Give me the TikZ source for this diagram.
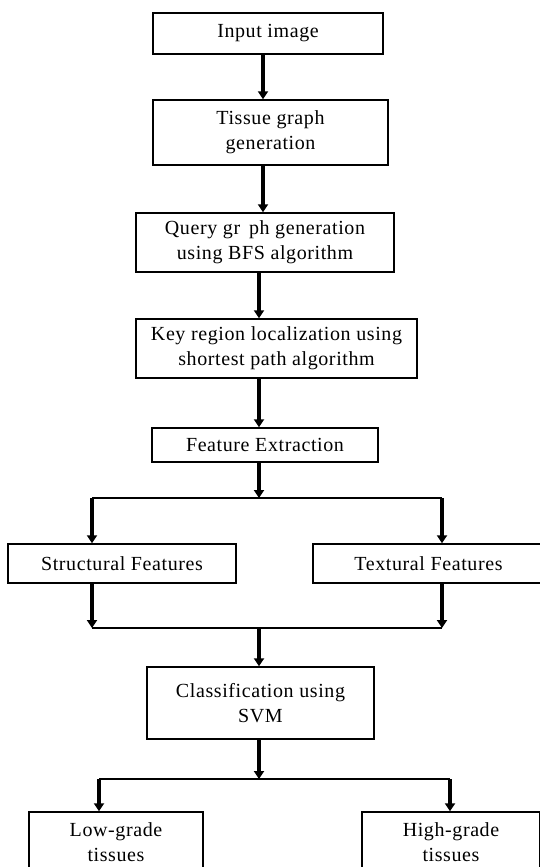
\documentclass[tikz,border=0pt]{standalone}
\usepackage{fontspec}
\setmainfont{Liberation Serif}[LetterSpace=3]
\usetikzlibrary{arrows.meta}
\begin{document}
\begin{tikzpicture}[x=1pt,y=-1pt,
  box/.style={draw, line width=1.4pt, inner sep=0pt, align=center,
    font=\fontsize{20}{25}\selectfont},
  arr/.style={line width=3.5pt, -{Triangle[width=10pt,length=8pt]}},
  ln/.style={line width=1.4pt}]
\useasboundingbox (0,0) rectangle (539,867);
\node[box, minimum width=230pt, minimum height=41pt] (in) at (268,33.5) {Input image};
\node[box, minimum width=235pt, minimum height=65pt] (tg) at (270.5,132.5) {Tissue graph\\generation};
\node[box, minimum width=258pt, minimum height=59pt] (qg) at (265,242.5) {Query gr\hphantom{a}ph generation\\using BFS algorithm};
\node[box, minimum width=281pt, minimum height=59pt] (kr) at (276.5,348.5) {Key region localization using\\shortest path algorithm};
\node[box, minimum width=226pt, minimum height=34pt] (fe) at (265,445) {Feature Extraction};
\node[box, minimum width=228pt, minimum height=39pt] (sf) at (122,563.5) {Structural Features};
\node[box, minimum width=231pt, minimum height=39pt] (tf) at (428.5,563.5) {Textural Features};
\node[box, minimum width=227pt, minimum height=72pt] (cl) at (260.5,703) {Classification using\\SVM};
\node[box, minimum width=174pt, minimum height=59.4pt] (lg) at (116,841.7) {Low-grade\\tissues};
\node[box, minimum width=178pt, minimum height=59.4pt] (hg) at (451,841.7) {High-grade\\tissues};
\coordinate (c1) at (263,0);
\coordinate (c2) at (259,0);
\coordinate (b1) at (259,498);
\coordinate (b1l) at (92,498);
\coordinate (b1r) at (442,498);
\coordinate (m) at (259,628);
\coordinate (ml) at (92,628);
\coordinate (mr) at (442,628);
\coordinate (b2) at (259,779);
\coordinate (b2l) at (99,779);
\coordinate (b2r) at (450,779);
\draw[arr] (in.south -| c1) -- (tg.north -| c1);
\draw[arr] (tg.south -| c1) -- (qg.north -| c1);
\draw[arr] (qg.south -| c2) -- (kr.north -| c2);
\draw[arr] (kr.south -| c2) -- (fe.north -| c2);
\draw[arr] (fe.south -| c2) -- (b1);
\draw[ln] (b1l) -- (b1r);
\draw[arr] (b1l) -- (sf.north -| b1l);
\draw[arr] (b1r) -- (tf.north -| b1r);
\draw[arr] (sf.south -| ml) -- (ml);
\draw[arr] (tf.south -| mr) -- (mr);
\draw[ln] (ml) -- (mr);
\draw[arr] (m) -- (cl.north -| m);
\draw[arr] (cl.south -| b2) -- (b2);
\draw[ln] (b2l) -- (b2r);
\draw[arr] (b2l) -- (lg.north -| b2l);
\draw[arr] (b2r) -- (hg.north -| b2r);
\end{tikzpicture}
\end{document}
